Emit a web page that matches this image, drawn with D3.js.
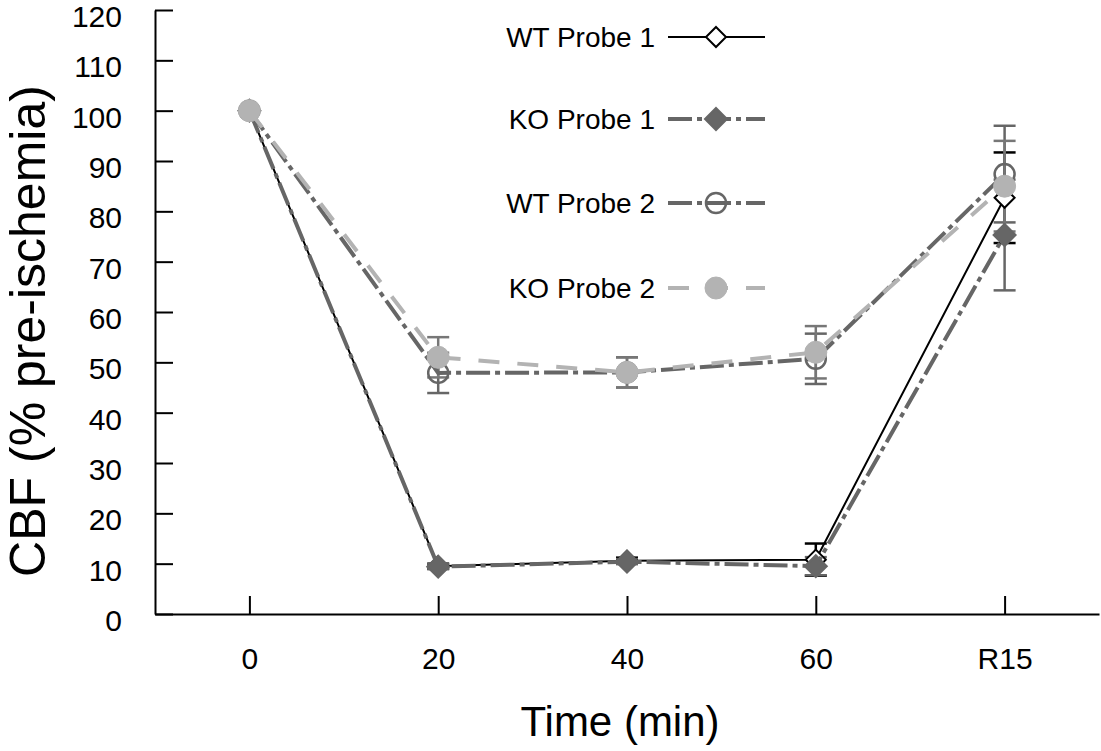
<!DOCTYPE html>
<html><head><meta charset="utf-8">
<script src="https://cdn.jsdelivr.net/npm/d3@7"></script>
<style>
html,body{margin:0;padding:0;background:#fff;}
svg{display:block;font-family:"Liberation Sans",Arial,sans-serif;}
</style></head>
<body>
<svg id="chart" width="1101" height="751"></svg>
<script>
const categories = ["0", "20", "40", "60", "R15"];
const yTicks = [0, 10, 20, 30, 40, 50, 60, 70, 80, 90, 100, 110, 120];
const seriesNames = ["WT Probe 1", "KO Probe 1", "WT Probe 2", "KO Probe 2"];
const wtProbe1 = [100, 9.5, 10.6, 10.8, 82.7];
const wtProbe1Err = [0, 0.5, 0.6, 3.2, 9.0];
const koProbe1 = [100, 9.4, 10.4, 9.5, 75.3];
const koProbe1Err = [0, 0.5, 0.5, 1.8, 11.0];
const wtProbe2 = [100, 47.9, 48.0, 50.7, 87.4];
const wtProbe2Err = [0, 4.0, 3.0, 5.0, 9.6];
const koProbe2 = [100, 51.0, 48.0, 52.0, 85.0];
const koProbe2Err = [0, 4.0, 3.0, 5.2, 9.0];

const svg = d3.select("#chart");
const x = d3.scalePoint().domain(categories).range([155, 1099]).padding(0.5);
const y = d3.scaleLinear().domain([0, 120]).range([614, 10]);

const styles = [
  {name: seriesNames[0], vals: wtProbe1, err: wtProbe1Err, color: "#000", errColor: "#000", width: 2, dash: null, marker: "diamond", fill: "#fff", stroke: "#000"},
  {name: seriesNames[1], vals: koProbe1, err: koProbe1Err, color: "#666", errColor: "#666", width: 4, dash: "24,5,5,5", marker: "diamond", fill: "#666", stroke: "#666"},
  {name: seriesNames[2], vals: wtProbe2, err: wtProbe2Err, color: "#666", errColor: "#666", width: 4, dash: "24,5,5,5", marker: "circle", fill: "none", stroke: "#666"},
  {name: seriesNames[3], vals: koProbe2, err: koProbe2Err, color: "#b3b3b3", errColor: "#777", width: 4, dash: "21,18", marker: "circle", fill: "#b3b3b3", stroke: "#b3b3b3"}
];

// axes
const yAxis = d3.axisLeft(y).tickValues(yTicks).tickSizeInner(-18).tickSizeOuter(0).tickPadding(33);
const gy = svg.append("g").attr("transform", "translate(155,0)").call(yAxis);
const xAxis = d3.axisBottom(x).tickSizeInner(-18).tickSizeOuter(0).tickPadding(34);
const gx = svg.append("g").attr("transform", "translate(0,614)").call(xAxis);
[gx, gy].forEach(g => {
  g.selectAll("path.domain").attr("stroke", "#000").attr("stroke-width", 2);
  g.selectAll(".tick line").attr("stroke", "#000").attr("stroke-width", 2);
  g.selectAll(".tick text").attr("font-size", 30).attr("fill", "#000")
    .attr("font-family", "Liberation Sans, Arial, sans-serif");
});
gy.selectAll(".tick text").attr("dy", "0.55em");

// axis titles
svg.append("text").attr("x", 620).attr("y", 736).attr("text-anchor", "middle")
  .attr("font-size", 42).text("Time (min)");
svg.append("text").attr("transform", "translate(45,331) rotate(-90)").attr("text-anchor", "middle")
  .attr("font-size", 50).text("CBF (% pre-ischemia)");

const line = d3.line().x((d, i) => x(categories[i])).y(d => y(d));

function drawMarker(g, s, cx, cy) {
  if (s.marker === "diamond") {
    const h = s.fill === "#fff" ? 10 : 11;
    g.append("path").attr("d", `M0,${-h}L${h},0L0,${h}L${-h},0Z`).attr("transform", `translate(${cx},${cy})`)
      .attr("fill", s.fill).attr("stroke", s.stroke).attr("stroke-width", 2);
  } else {
    g.append("circle").attr("cx", cx).attr("cy", cy).attr("r", s.fill === "none" ? 10 : 11)
      .attr("fill", s.fill).attr("stroke", s.stroke)
      .attr("stroke-width", s.fill === "none" ? 2.5 : 1);
  }
}

// error bars
styles.forEach(s => {
  const g = svg.append("g");
  s.vals.forEach((v, i) => {
    if (!s.err[i]) return;
    const cx = x(categories[i]);
    const y1 = y(v + s.err[i]), y2 = y(v - s.err[i]);
    g.append("line").attr("x1", cx).attr("x2", cx).attr("y1", y1).attr("y2", y2)
      .attr("stroke", s.errColor).attr("stroke-width", 2.5);
    [y1, y2].forEach(yy => g.append("line").attr("x1", cx - 11).attr("x2", cx + 11)
      .attr("y1", yy).attr("y2", yy).attr("stroke", s.errColor).attr("stroke-width", 2.5));
  });
});

// lines + markers
styles.forEach(s => {
  const g = svg.append("g");
  g.append("path").attr("d", line(s.vals)).attr("fill", "none").attr("stroke", s.color)
    .attr("stroke-width", s.width).attr("stroke-dasharray", s.dash);
  s.vals.forEach((v, i) => drawMarker(g, s, x(categories[i]), y(v)));
});

// legend
const legendY = [37, 119, 203, 288];
styles.forEach((s, i) => {
  const g = svg.append("g");
  g.append("text").attr("x", 655).attr("y", legendY[i]).attr("dy", "0.35em")
    .attr("text-anchor", "end").attr("font-size", 28).text(s.name);
  g.append("line").attr("x1", 668).attr("x2", 765).attr("y1", legendY[i]).attr("y2", legendY[i])
    .attr("stroke", s.color).attr("stroke-width", s.width).attr("stroke-dasharray", s.dash);
  drawMarker(g, s, 716, legendY[i]);
});
</script>
</body></html>
